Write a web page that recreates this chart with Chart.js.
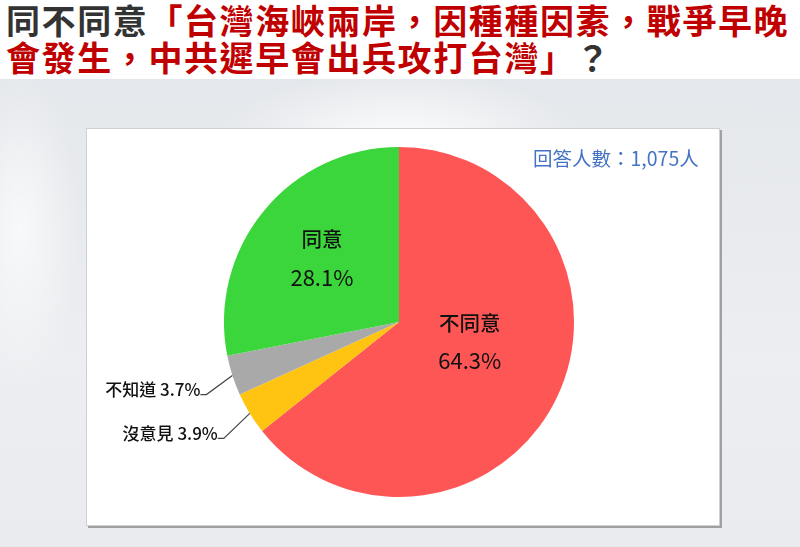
<!DOCTYPE html>
<html>
<head>
<meta charset="utf-8">
<script src="https://cdn.jsdelivr.net/npm/chart.js@4.4.1/dist/chart.umd.min.js"></script>
<style>
  html, body { margin: 0; padding: 0; }
  body {
    width: 800px; height: 547px; position: relative; overflow: hidden;
    background: #fff;
    font-family: "Noto Sans CJK TC", "Noto Sans", sans-serif;
  }
  #bg {
    position: absolute; left: 0; top: 79px; width: 800px; height: 468px;
    background:
      radial-gradient(ellipse 180px 70px at 400px 60px, rgba(255,255,255,0.85), rgba(255,255,255,0) 100%),
      radial-gradient(ellipse 60px 160px at 20px 150px, rgba(255,255,255,0.7), rgba(255,255,255,0) 100%),
      linear-gradient(180deg, #e4e7eb 0%, #eceef1 60%, #e9ebee 100%);
  }
  .title {
    position: absolute; left: 6px; font-size: 34px; font-weight: 700;
    letter-spacing: 1.6px; line-height: 36px; white-space: nowrap;
  }
  .t1 { top: 2px; }
  .t2 { top: 39px; }
  .blk { color: #333; }
  .red { color: #c00000; }
  #box {
    position: absolute; left: 86px; top: 128px; width: 632px; height: 396px;
    background: #fff; border: 1px solid #d0d0d0;
    box-shadow: 2px 2px 0 #a0a0a0;
  }
  #chart { position: absolute; left: 86px; top: 128px; }
  #count {
    position: absolute; left: 533px; top: 143px; font-size: 19.5px;
    color: #4472c4; white-space: nowrap;
  }
</style>
</head>
<body>
<div id="bg"></div>
<div class="title t1"><span class="blk">同不同意</span><span class="red">「台灣海峽兩岸，因種種因素，戰爭早晚</span></div>
<div class="title t2"><span class="red">會發生，中共遲早會出兵攻打台灣」</span><span class="blk">？</span></div>
<div id="box"></div>
<canvas id="chart" width="634" height="398"></canvas>
<div id="count">回答人數：1,075人</div>
<script>
// survey answers, clockwise from 12 o'clock
var categories = ['不同意', '沒意見', '不知道', '同意'];
var percents = [64.3, 3.9, 3.7, 28.1];
var sliceColors = ['#fe5555', '#ffc311', '#a9a9a9', '#3bd63b'];

// label style per slice: inside labels use angle shift + radius fraction,
// outside ones get a leader line
var labelStyle = [
  { inside: true, shift: -10, frac: 0.42 },
  { inside: false, dx: -26, dy: 25 },
  { inside: false, dx: -26, dy: 19 },
  { inside: true, shift: 0, frac: 0.57 }
];

var sliceLabels = {
  id: 'sliceLabels',
  afterDatasetsDraw: function(chart) {
    var ctx = chart.ctx;
    var meta = chart.getDatasetMeta(0);
    ctx.save();
    ctx.fillStyle = '#111';
    meta.data.forEach(function(arc, i) {
      var p = arc.getProps(['x', 'y', 'startAngle', 'endAngle', 'outerRadius'], true);
      var mid = (p.startAngle + p.endAngle) / 2;
      var st = labelStyle[i];
      var pct = percents[i].toFixed(1) + '%';
      if (st.inside) {
        var a = mid + st.shift * Math.PI / 180;
        var cx = p.x + Math.cos(a) * p.outerRadius * st.frac;
        var cy = p.y + Math.sin(a) * p.outerRadius * st.frac;
        ctx.textAlign = 'center';
        ctx.textBaseline = 'middle';
        ctx.font = '500 20.5px "Noto Sans CJK TC"';
        ctx.fillText(categories[i], cx, cy - 19);
        ctx.font = '22px "Noto Sans CJK TC"';
        ctx.fillText(pct, cx, cy + 19);
      } else {
        var x0 = p.x + Math.cos(mid) * p.outerRadius;
        var y0 = p.y + Math.sin(mid) * p.outerRadius;
        var x1 = x0 + st.dx, y1 = y0 + st.dy;
        ctx.strokeStyle = '#444';
        ctx.lineWidth = 1.2;
        ctx.beginPath();
        ctx.moveTo(x0, y0);
        ctx.lineTo(x1, y1);
        ctx.lineTo(x1 - 6, y1);
        ctx.stroke();
        ctx.textAlign = 'right';
        ctx.textBaseline = 'middle';
        ctx.font = '500 17px "Noto Sans CJK TC"';
        ctx.fillText(categories[i] + ' ' + pct, x1 - 6, y1 - 5);
      }
    });
    ctx.restore();
  }
};

var ctx = document.getElementById('chart').getContext('2d');
var chart = new Chart(ctx, {
  type: 'pie',
  data: {
    labels: categories,
    datasets: [{
      data: percents,
      backgroundColor: sliceColors,
      borderWidth: 0
    }]
  },
  options: {
    responsive: false,
    animation: false,
    layout: { padding: { top: 19, bottom: 29, left: 0, right: 8 } },
    plugins: {
      legend: { display: false },
      tooltip: { enabled: false }
    }
  },
  plugins: [sliceLabels]
});
</script>
</body>
</html>
